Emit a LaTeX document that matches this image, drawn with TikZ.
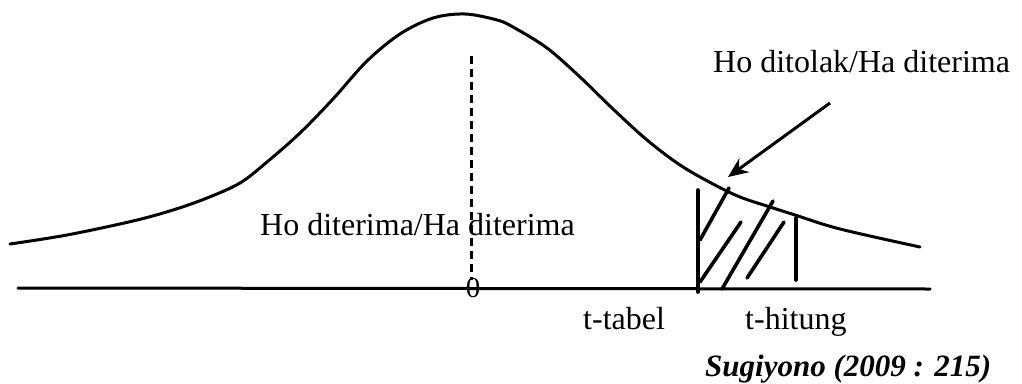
\documentclass[tikz,border=0pt]{standalone}
\usepackage{fontspec}
\setmainfont{Liberation Serif}
\usetikzlibrary{arrows.meta}
\begin{document}
\begin{tikzpicture}[x=1pt,y=-1pt,
  ln/.style={line width=3pt,line cap=round},
  hl/.style={line width=3.6pt,line cap=round},
  lbl/.style={inner sep=0pt,anchor=base west,font=\fontsize{32}{38}\selectfont},
  ptr/.style={line width=3pt,-{Stealth[length=20pt,width=17pt]}}]
\useasboundingbox (0,0) rectangle (1022,383);
% axis
\coordinate (axL) at (18,288);
\coordinate (axR) at (930,289);
\draw[ln] (axL) -- (axR);
% curve
\draw[ln,line join=round] plot[smooth,tension=0.55] coordinates {
 (10,244) (67,235) (133,221) (173,210) (207,198) (240,183) (267,162) (300,133)
 (333,99) (367,61) (400,34) (433,18) (465,14) (497,20) (513,27) (547,48) (580,77)
 (613,109) (647,140) (680,165) (713,184) (740,197) (770,207) (795,215) (840,229) (920,247)};
% dashed centre line
\coordinate (dT) at (471,56);
\coordinate (dB) at (471,280);
\draw[line width=3pt,dash pattern=on 8pt off 5pt] (dT) -- (dB);
\node[inner sep=0pt,font=\fontsize{29}{34}\selectfont] (zero) at (473,288) {0};
% rejection region
\coordinate (v1t) at (698,190); \coordinate (v1b) at (698,292);
\coordinate (v2t) at (796,218); \coordinate (v2b) at (796,280);
\draw[hl] (v1t) -- (v1b);
\draw[hl] (v2t) -- (v2b);
\coordinate (h1a) at (700,240); \coordinate (h1b) at (729,188);
\coordinate (h2a) at (700,282); \coordinate (h2b) at (741,222);
\coordinate (h3a) at (722,289); \coordinate (h3b) at (773,201);
\coordinate (h4a) at (747,278); \coordinate (h4b) at (784,222);
\draw[hl] (h1a) -- (h1b);
\draw[hl] (h2a) -- (h2b);
\draw[hl] (h3a) -- (h3b);
\draw[hl] (h4a) -- (h4b);
% labels
\node[lbl] (rej) at (713,72) {Ho ditolak/Ha diterima};
\node[lbl] (acc) at (260,235) {Ho diterima/Ha diterima};
\node[lbl] (ttab) at (583,329) {t-tabel};
\node[lbl] (thit) at (745,329) {t-hitung};
\node[lbl,font=\fontsize{31}{36}\selectfont\bfseries\itshape] (src) at (705,376) {Sugiyono (2009 : 215)};
% arrow
\coordinate (aS) at (830,103);
\coordinate (aE) at (728,177);
\draw[ptr] (aS) -- (aE);
\end{tikzpicture}
\end{document}
